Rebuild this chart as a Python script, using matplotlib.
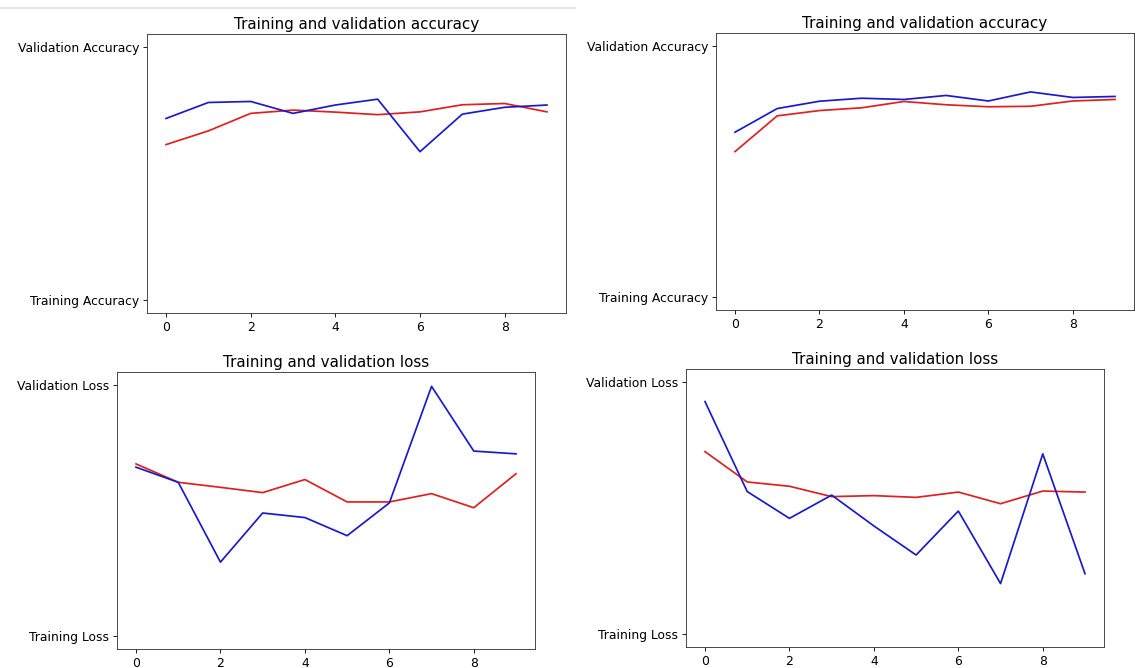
import numpy as np
import matplotlib
matplotlib.use("Agg")
import matplotlib.pyplot as plt

epochs = list(range(10))

# values (0 = bottom tick, 1 = top tick)
acc_a = [0.614, 0.668, 0.737, 0.750, 0.742, 0.732, 0.743, 0.771, 0.776, 0.743]
val_acc_a = [0.717, 0.780, 0.784, 0.737, 0.770, 0.793, 0.586, 0.734, 0.761, 0.770]

acc_b = [0.579, 0.721, 0.742, 0.753, 0.778, 0.765, 0.757, 0.759, 0.780, 0.786]
val_acc_b = [0.656, 0.750, 0.779, 0.791, 0.786, 0.802, 0.780, 0.816, 0.794, 0.798]

loss_a = [0.685, 0.612, 0.592, 0.571, 0.623, 0.534, 0.534, 0.567, 0.511, 0.646]
val_loss_a = [0.672, 0.612, 0.295, 0.490, 0.472, 0.400, 0.530, 0.993, 0.736, 0.725]

loss_b = [0.723, 0.603, 0.586, 0.545, 0.549, 0.542, 0.563, 0.517, 0.567, 0.563]
val_loss_b = [0.921, 0.565, 0.459, 0.551, 0.429, 0.314, 0.488, 0.201, 0.714, 0.240]

acc_labels = ["Training Accuracy", "Validation Accuracy"]
loss_labels = ["Training Loss", "Validation Loss"]

plt.rcParams['xtick.labelsize'] = 11.4
plt.rcParams['ytick.labelsize'] = 11.4
plt.rcParams['axes.titlesize'] = 14
plt.rcParams['axes.edgecolor'] = '#333333'

dpi = 78
fig = plt.figure(figsize=(1137 / dpi, 668 / dpi), dpi=dpi)

# axes boxes in pixels: left, top, right, bottom
boxes = [(147, 34, 566, 313), (716, 33, 1134, 310),
         (117, 372, 535, 649), (686, 369, 1104, 647)]

panels = [
    (acc_a, val_acc_a, acc_labels, "Training and validation accuracy"),
    (acc_b, val_acc_b, acc_labels, "Training and validation accuracy"),
    (loss_a, val_loss_a, loss_labels, "Training and validation loss"),
    (loss_b, val_loss_b, loss_labels, "Training and validation loss"),
]

for (l, t, r, b), (train, val, labels, title) in zip(boxes, panels):
    ax = fig.add_axes([l / 1137, 1 - b / 668, (r - l) / 1137, (b - t) / 668])
    ax.plot(epochs, train, color='#e02020', linewidth=1.6)
    ax.plot(epochs, val, color='#1a1acc', linewidth=1.6)
    ax.set_ylim(-0.05, 1.05)
    ax.set_yticks([0, 1])
    ax.set_yticklabels(labels)
    ax.set_xticks([0, 2, 4, 6, 8])
    ax.set_title(title, pad=5)

# thin grey strip at the top of the screenshot
fig.add_artist(plt.Line2D([0, 575 / 1137], [1 - 8 / 668, 1 - 8 / 668],
                          color='#e6e6e6', linewidth=2, transform=fig.transFigure))

fig.savefig("out.png", dpi=dpi)
